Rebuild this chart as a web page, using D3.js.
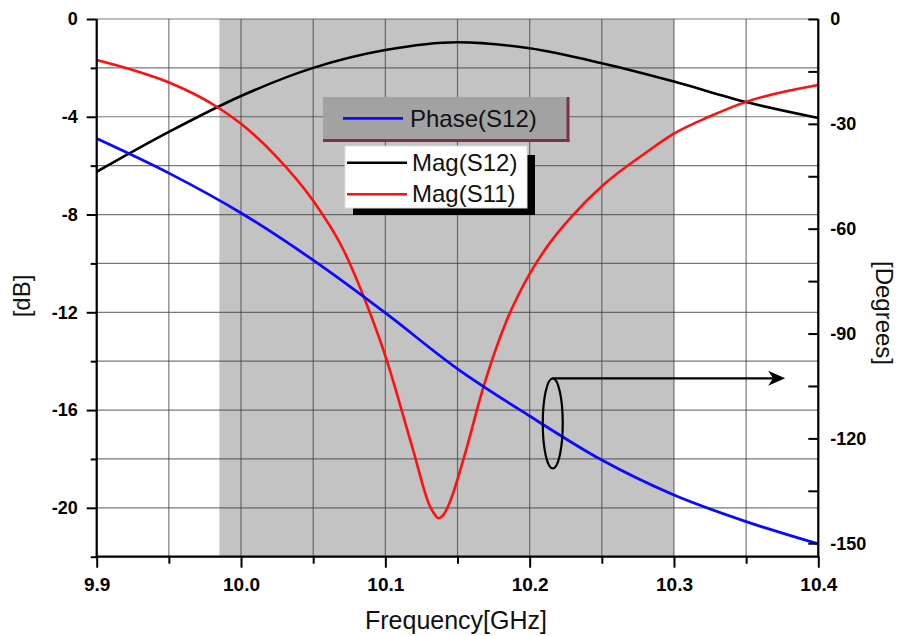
<!DOCTYPE html>
<html><head><meta charset="utf-8">
<script src="https://cdn.jsdelivr.net/npm/d3@7"></script>
<style>
html,body{margin:0;padding:0;background:#fff;}
svg{display:block;font-family:Arial,"Liberation Sans",sans-serif;}
.tick text{font-weight:bold;font-family:Arial,"Liberation Sans",sans-serif;}
</style></head>
<body><svg id="chart" width="903" height="636"></svg>
<script>
// ---- data ----
const freqS12 = [9.90, 9.95, 10.00, 10.05, 10.10, 10.15, 10.20, 10.25, 10.30, 10.35, 10.40];
const magS12  = [-6.25, -4.62, -3.15, -2.00, -1.27, -0.95, -1.20, -1.81, -2.56, -3.40, -4.05];

const freqS11 = [9.900, 9.925, 9.951, 9.984, 10.000, 10.024, 10.050, 10.071, 10.087, 10.100, 10.119, 10.131, 10.1334, 10.1367,
                 10.1407, 10.1448, 10.154, 10.168, 10.184, 10.200, 10.214, 10.230, 10.251, 10.281, 10.299, 10.325, 10.350, 10.400];
const magS11  = [-1.68, -2.09, -2.62, -3.62, -4.29, -5.60, -7.44, -9.45, -11.66, -13.78, -17.59, -19.95, -20.20, -20.42,
                 -20.25, -19.75, -18.04, -15.05, -12.35, -10.43, -9.16, -8.02, -6.79, -5.45, -4.72, -3.98, -3.39, -2.70];

const freqPhase = [9.90, 9.95, 10.00, 10.05, 10.10, 10.15, 10.20, 10.25, 10.30, 10.35, 10.40];
const phaseS12  = [-34.2, -44.1, -55.5, -69.0, -84.1, -100.1, -113.6, -126.2, -136.2, -143.8, -150.2];

const xTicks = [9.9, 10.0, 10.1, 10.2, 10.3, 10.4];
const xMinor = [9.95, 10.05, 10.15, 10.25, 10.35];
const leftTicks = [0, -4, -8, -12, -16, -20];
const leftMinor = [-2, -6, -10, -14, -18, -22];
const rightTicks = [0, -30, -60, -90, -120, -150];
const rightMinor = [-15, -45, -75, -105, -135];
const shadeBand = [9.985, 10.3];

// ---- layout ----
const W = 903, H = 636;
const m = {left: 96.7, top: 19, right: W - 818.3, bottom: H - 556.7};
const svg = d3.select("#chart");

const x = d3.scaleLinear().domain([9.9, 10.4]).range([m.left, W - m.right]);
const yL = d3.scaleLinear().domain([-22, 0]).range([H - m.bottom, m.top]);
const yR = d3.scaleLinear().domain([-153.85, 0]).range([H - m.bottom, m.top]);

svg.append("defs").append("clipPath").attr("id", "clip")
  .append("rect").attr("x", m.left).attr("y", m.top)
  .attr("width", x.range()[1] - m.left).attr("height", yL.range()[0] - m.top);

// shaded band
svg.append("rect")
  .attr("x", x(shadeBand[0])).attr("y", m.top)
  .attr("width", x(shadeBand[1]) - x(shadeBand[0]))
  .attr("height", yL(-22) - yL(0))
  .attr("fill", "#c3c3c3");

// grid
const grid = svg.append("g").attr("stroke", "#404040").attr("stroke-opacity", 0.7).attr("stroke-width", 1.2);
[...xTicks, ...xMinor].forEach(f => {
  grid.append("line").attr("x1", x(f)).attr("x2", x(f)).attr("y1", m.top).attr("y2", yL(-22));
});
d3.range(0, -22.1, -2).forEach(v => {
  grid.append("line").attr("x1", m.left).attr("x2", x(10.4)).attr("y1", yL(v)).attr("y2", yL(v));
});

// curves
const plot = svg.append("g").attr("clip-path", "url(#clip)");
const lineL = d3.line().curve(d3.curveMonotoneX);
plot.append("path")
  .attr("d", lineL(freqS12.map((f, i) => [x(f), yL(magS12[i])])))
  .attr("fill", "none").attr("stroke", "#000").attr("stroke-width", 2.6);
plot.append("path")
  .attr("d", lineL(freqS11.map((f, i) => [x(f), yL(magS11[i])])))
  .attr("fill", "none").attr("stroke", "#ff1010").attr("stroke-width", 2.6);
plot.append("path")
  .attr("d", lineL(freqPhase.map((f, i) => [x(f), yR(phaseS12[i])])))
  .attr("fill", "none").attr("stroke", "#0a0aff").attr("stroke-width", 2.8);

// axes
const fmtInt = d => String(d);
function styleAxis(g, size) {
  g.attr("font-size", size).attr("font-family", "Arial, 'Liberation Sans', sans-serif").attr("font-weight", "bold");
  g.select(".domain").remove();
  g.selectAll(".tick line").attr("stroke", "#000").attr("stroke-width", 2);
  g.selectAll(".tick text").attr("fill", "#000").style("font-size", size + "px").style("font-weight", "bold");
}
const gL = svg.append("g").attr("transform", `translate(${m.left},0)`)
  .call(d3.axisLeft(yL).tickValues(leftTicks).tickSize(10).tickPadding(9).tickFormat(fmtInt));
styleAxis(gL, 18);
const gLm = svg.append("g").attr("transform", `translate(${m.left},0)`)
  .call(d3.axisLeft(yL).tickValues(leftMinor).tickSize(6).tickFormat(""));
styleAxis(gLm, 18);

const gR = svg.append("g").attr("transform", `translate(${x(10.4)},0)`)
  .call(d3.axisRight(yR).tickValues(rightTicks).tickSize(-10).tickPadding(12).tickFormat(fmtInt));
styleAxis(gR, 18);
const gRm = svg.append("g").attr("transform", `translate(${x(10.4)},0)`)
  .call(d3.axisRight(yR).tickValues(rightMinor).tickSize(-10).tickFormat(""));
styleAxis(gRm, 18);

const gB = svg.append("g").attr("transform", `translate(0,${yL(-22)})`)
  .call(d3.axisBottom(x).tickValues(xTicks).tickSize(11).tickPadding(10).tickFormat(d3.format(".1f")));
styleAxis(gB, 19);
const gBm = svg.append("g").attr("transform", `translate(0,${yL(-22)})`)
  .call(d3.axisBottom(x).tickValues(xMinor).tickSize(7).tickFormat(""));
styleAxis(gBm, 19);

// axis lines (left, bottom, right)
const axl = svg.append("g").attr("stroke", "#000").attr("stroke-width", 2.2).attr("fill", "none");
axl.append("line").attr("x1", m.left).attr("x2", m.left).attr("y1", m.top).attr("y2", yL(-22) + 1);
axl.append("line").attr("x1", m.left - 1).attr("x2", x(10.4) + 1).attr("y1", yL(-22)).attr("y2", yL(-22));
axl.append("line").attr("x1", x(10.4)).attr("x2", x(10.4)).attr("y1", m.top).attr("y2", yL(-22) + 1);

// axis titles
svg.append("text").attr("x", 456).attr("y", 629).attr("text-anchor", "middle")
  .attr("font-size", 25).attr("fill", "#111").text("Frequency[GHz]");
svg.append("text").attr("transform", "translate(30,296) rotate(-90)").attr("text-anchor", "middle")
  .attr("font-size", 24).attr("fill", "#111").text("[dB]");
svg.append("text").attr("transform", "translate(876,313) rotate(90)").attr("text-anchor", "middle")
  .attr("font-size", 24).attr("fill", "#111").text("[Degrees]");

// legend 1 (Phase)
const lg1 = svg.append("g");
lg1.append("rect").attr("x", 323).attr("y", 97).attr("width", 245).attr("height", 45).attr("fill", "#a2a2a2");
lg1.append("line").attr("x1", 323).attr("x2", 569.5).attr("y1", 140.5).attr("y2", 140.5)
  .attr("stroke", "#7a3344").attr("stroke-width", 3);
lg1.append("line").attr("x1", 568).attr("x2", 568).attr("y1", 97).attr("y2", 142)
  .attr("stroke", "#7a3344").attr("stroke-width", 3);
lg1.append("line").attr("x1", 343).attr("x2", 403).attr("y1", 118.3).attr("y2", 118.3)
  .attr("stroke", "#0a0aff").attr("stroke-width", 2.8);
lg1.append("text").attr("x", 410).attr("y", 127).attr("font-size", 24).attr("fill", "#111").text("Phase(S12)");

// legend 2 (Mag)
const lg2 = svg.append("g");
lg2.append("rect").attr("x", 353).attr("y", 155).attr("width", 182).attr("height", 60).attr("fill", "#000");
lg2.append("rect").attr("x", 345).attr("y", 146).attr("width", 182).attr("height", 62)
  .attr("fill", "#fff").attr("stroke", "#ddd").attr("stroke-width", 1);
lg2.append("line").attr("x1", 347).attr("x2", 407).attr("y1", 162.7).attr("y2", 162.7)
  .attr("stroke", "#000").attr("stroke-width", 2.6);
lg2.append("line").attr("x1", 347).attr("x2", 407).attr("y1", 194.3).attr("y2", 194.3)
  .attr("stroke", "#ff1010").attr("stroke-width", 2.6);
lg2.append("text").attr("x", 412).attr("y", 171).attr("font-size", 24).attr("fill", "#111").text("Mag(S12)");
lg2.append("text").attr("x", 412).attr("y", 202).attr("font-size", 24).attr("fill", "#111").text("Mag(S11)");

// annotation: ellipse around phase curve with arrow to right axis
const annF = 10.216, annDeg = -115.7, annRy = 45, annRx = 10, arrowTipF = 10.377;
const ex = x(annF), ey = yR(annDeg);
svg.append("ellipse").attr("cx", ex).attr("cy", ey).attr("rx", annRx).attr("ry", annRy)
  .attr("fill", "none").attr("stroke", "#000").attr("stroke-width", 2.2);
const ay = ey - annRy;
const tip = x(arrowTipF);
svg.append("line").attr("x1", ex).attr("x2", tip - 8).attr("y1", ay).attr("y2", ay)
  .attr("stroke", "#000").attr("stroke-width", 2.4);
svg.append("path")
  .attr("d", `M${tip},${ay} L${tip - 17},${ay - 7.5} L${tip - 12},${ay} L${tip - 17},${ay + 7.5} Z`)
  .attr("fill", "#000");
</script></body></html>
